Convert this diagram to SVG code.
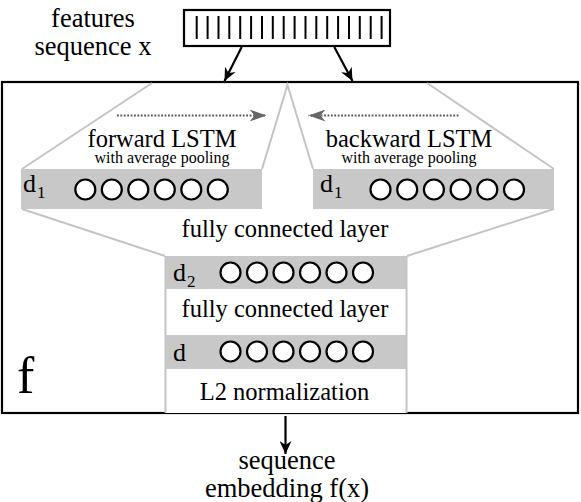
<svg xmlns="http://www.w3.org/2000/svg" width="581" height="502" viewBox="0 0 581 502">
<style>
text{font-family:"Liberation Serif","Times New Roman",serif;fill:#000}
.lbl{font-size:24.5px;text-anchor:middle}
.big{font-size:26.5px;text-anchor:middle}
.sm{font-size:16px;text-anchor:middle}
.dl{font-size:26px}
.sub{font-size:17px}
.gbox{fill:#c8c8c8;stroke:none}
.gline{stroke:#c4c4c4;stroke-width:2;fill:none}
.node circle{fill:#fff;stroke:#000;stroke-width:2.2}
.bar{stroke:#000;stroke-width:2}
.conn{stroke:#000;stroke-width:2.2;fill:none}
.dots{stroke:#555;stroke-width:1.8;stroke-dasharray:1.8,1.6;fill:none}
</style>
<defs>
<marker id="ah" markerUnits="userSpaceOnUse" markerWidth="14" markerHeight="12" refX="13" refY="6" orient="auto">
<path d="M0,0 L13,6 L0,12 L4,6 z" fill="#000"/>
</marker>
<marker id="gah" markerUnits="userSpaceOnUse" markerWidth="18" markerHeight="12" refX="17" refY="6" orient="auto">
<path d="M0,0 L17,6 L0,12 L5,6 z" fill="#666"/>
</marker>
</defs>
<rect width="581" height="502" fill="#fff"/>

<g id="input">
<rect x="184" y="10" width="206" height="36" fill="#fff" stroke="#000" stroke-width="2.2"/>
<g class="bar">
<line x1="196.7" y1="16" x2="196.7" y2="39"/><line x1="207.6" y1="16" x2="207.6" y2="39"/><line x1="218.5" y1="16" x2="218.5" y2="39"/><line x1="229.3" y1="16" x2="229.3" y2="39"/><line x1="240.2" y1="16" x2="240.2" y2="39"/><line x1="251.1" y1="16" x2="251.1" y2="39"/><line x1="262" y1="16" x2="262" y2="39"/><line x1="272.8" y1="16" x2="272.8" y2="39"/><line x1="283.7" y1="16" x2="283.7" y2="39"/><line x1="294.6" y1="16" x2="294.6" y2="39"/><line x1="305.5" y1="16" x2="305.5" y2="39"/><line x1="316.3" y1="16" x2="316.3" y2="39"/><line x1="327.2" y1="16" x2="327.2" y2="39"/><line x1="338.1" y1="16" x2="338.1" y2="39"/><line x1="349" y1="16" x2="349" y2="39"/><line x1="359.8" y1="16" x2="359.8" y2="39"/><line x1="370.7" y1="16" x2="370.7" y2="39"/><line x1="381.6" y1="16" x2="381.6" y2="39"/>
</g>
<text class="big" x="93" y="27">features</text>
<text class="big" x="93" y="55">sequence x</text>
</g>

<g id="f-box">
<rect x="2" y="82" width="576" height="331" fill="#fff" stroke="#000" stroke-width="2.2"/>
<text x="17" y="393" style="font-size:52px">f</text>
</g>

<g id="trapezoids">
<rect x="166" y="256" width="240" height="157" fill="#fff"/>
<polyline class="gline" points="22,169 152,83"/>
<polyline class="gline" points="262,169 287.5,85 313,169"/>
<polyline class="gline" points="554,169 427,83"/>
<polyline class="gline" points="22,209 165,256"/>
<polyline class="gline" points="554,209 407,256"/>
<line class="gline" x1="165.5" y1="256" x2="165.5" y2="413"/>
<line class="gline" x1="406.5" y1="256" x2="406.5" y2="413"/>
</g>

<g id="forward-lstm" class="node">
<rect class="gbox" x="21" y="169" width="241" height="40"/>
<text class="dl" x="23" y="192">d</text><text class="sub" x="37" y="198">1</text>
<circle cx="85.3" cy="189.5" r="10"/><circle cx="111.8" cy="189.5" r="10"/><circle cx="138.3" cy="189.5" r="10"/><circle cx="164.8" cy="189.5" r="10"/><circle cx="191.3" cy="189.5" r="10"/><circle cx="217.8" cy="189.5" r="10"/>
<text class="lbl" x="162" y="147">forward LSTM</text>
<text class="sm" x="162" y="163">with average pooling</text>
</g>

<g id="backward-lstm" class="node">
<rect class="gbox" x="313" y="169" width="241" height="40"/>
<text class="dl" x="320" y="192">d</text><text class="sub" x="334" y="198">1</text>
<circle cx="380.5" cy="189.5" r="10"/><circle cx="407.2" cy="189.5" r="10"/><circle cx="433.9" cy="189.5" r="10"/><circle cx="460.6" cy="189.5" r="10"/><circle cx="487.3" cy="189.5" r="10"/><circle cx="514" cy="189.5" r="10"/>
<text class="lbl" x="409" y="147">backward LSTM</text>
<text class="sm" x="409" y="163">with average pooling</text>
</g>

<g id="fc1-label">
<text class="lbl" x="285" y="237">fully connected layer</text>
</g>

<g id="d2-layer" class="node">
<rect class="gbox" x="166" y="256" width="240" height="33"/>
<text class="dl" x="173" y="281">d</text><text class="sub" x="187" y="287">2</text>
<circle cx="230.5" cy="272.5" r="10"/><circle cx="257" cy="272.5" r="10"/><circle cx="283.5" cy="272.5" r="10"/><circle cx="310" cy="272.5" r="10"/><circle cx="336.5" cy="272.5" r="10"/><circle cx="363" cy="272.5" r="10"/>
</g>

<g id="fc2-label">
<text class="lbl" x="285" y="317">fully connected layer</text>
</g>

<g id="d-layer" class="node">
<rect class="gbox" x="166" y="335" width="240" height="34"/>
<text class="dl" x="173" y="361">d</text>
<circle cx="230.5" cy="351.5" r="10"/><circle cx="257" cy="351.5" r="10"/><circle cx="283.5" cy="351.5" r="10"/><circle cx="310" cy="351.5" r="10"/><circle cx="336.5" cy="351.5" r="10"/><circle cx="363" cy="351.5" r="10"/>
</g>

<g id="l2-label">
<text class="lbl" x="284.5" y="400">L2 normalization</text>
</g>

<g id="output">
<text class="big" x="287" y="469">sequence</text>
<text class="big" x="287" y="497">embedding f(x)</text>
</g>

<g id="connectors">
<line class="conn" x1="241.7" y1="47" x2="224.5" y2="81" marker-end="url(#ah)"/>
<line class="conn" x1="334.3" y1="47" x2="352.5" y2="81" marker-end="url(#ah)"/>
<line class="conn" x1="285.5" y1="416" x2="285.5" y2="454" marker-end="url(#ah)"/>
<line class="dots" x1="117" y1="115.5" x2="266.5" y2="115.5" marker-end="url(#gah)"/>
<line class="dots" x1="458.5" y1="115.5" x2="308.5" y2="115.5" marker-end="url(#gah)"/>
</g>
</svg>
